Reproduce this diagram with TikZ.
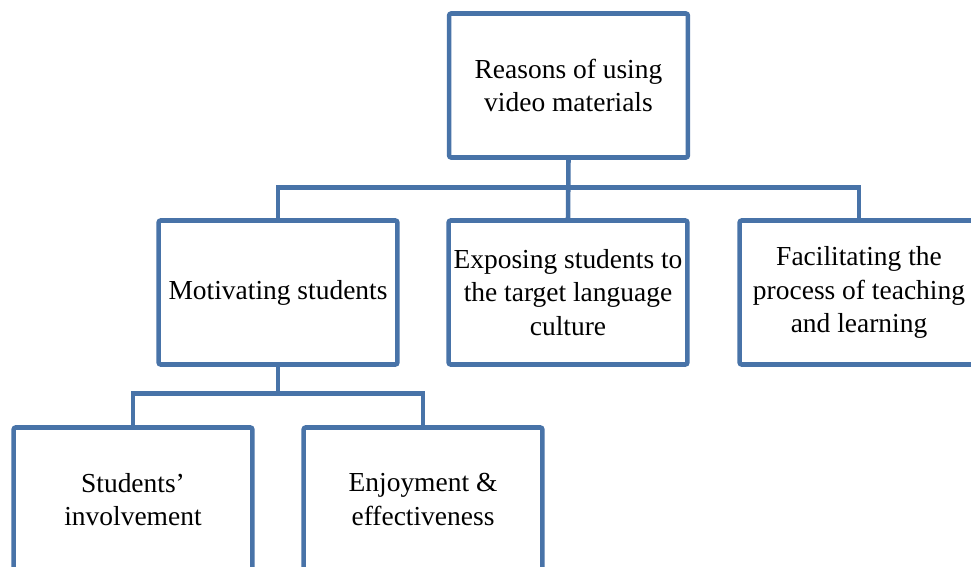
\documentclass[tikz,border=0pt]{standalone}
\usepackage{fontspec}
\setmainfont{Liberation Serif}
\usetikzlibrary{positioning}

\definecolor{boxblue}{RGB}{72,115,168}

\tikzset{
  reason/.style={draw=boxblue, line width=3.4pt, rounded corners=1.5pt,
    fill=white, minimum width=179pt, minimum height=108pt,
    align=center, inner sep=2pt,
    font=\fontsize{20.6}{25}\selectfont},
  link/.style={draw=boxblue, line width=3.4pt}
}

\begin{document}
\begin{tikzpicture}[x=0.75pt,y=-0.75pt]
  \useasboundingbox (0,0) rectangle (971,567);
  \clip (0,0) rectangle (971,567);
  \fill[white] (0,0) rectangle (971,567);

  % root and first level
  \node[reason] (root) at (568.5,85.5) {Reasons of using\\ video materials};
  \node[reason] (motiv) at (278,292.5) {Motivating students};
  \node[reason] (expos) at (568,292.5) {Exposing students to\\ the target language\\ culture};
  \node[reason] (facil) at (859,292.5) {Facilitating the\\ process of teaching\\ and learning};

  % second level under motivating
  \node[reason] (involv) at (133,499.5) {Students'\\ involvement};
  \node[reason] (enjoy) at (423,499.5) {Enjoyment \&\\ effectiveness};

  % tree lines
  \draw[link] (root.south) -- (expos.north);
  \draw[link] (motiv.north) -- ++(0,-31) -| (facil.north);
  \draw[link] (involv.north) -- ++(0,-32) coordinate (lowbus) -| (enjoy.north);
  \draw[link] (motiv.south) -- (motiv.south |- lowbus);
\end{tikzpicture}
\end{document}
